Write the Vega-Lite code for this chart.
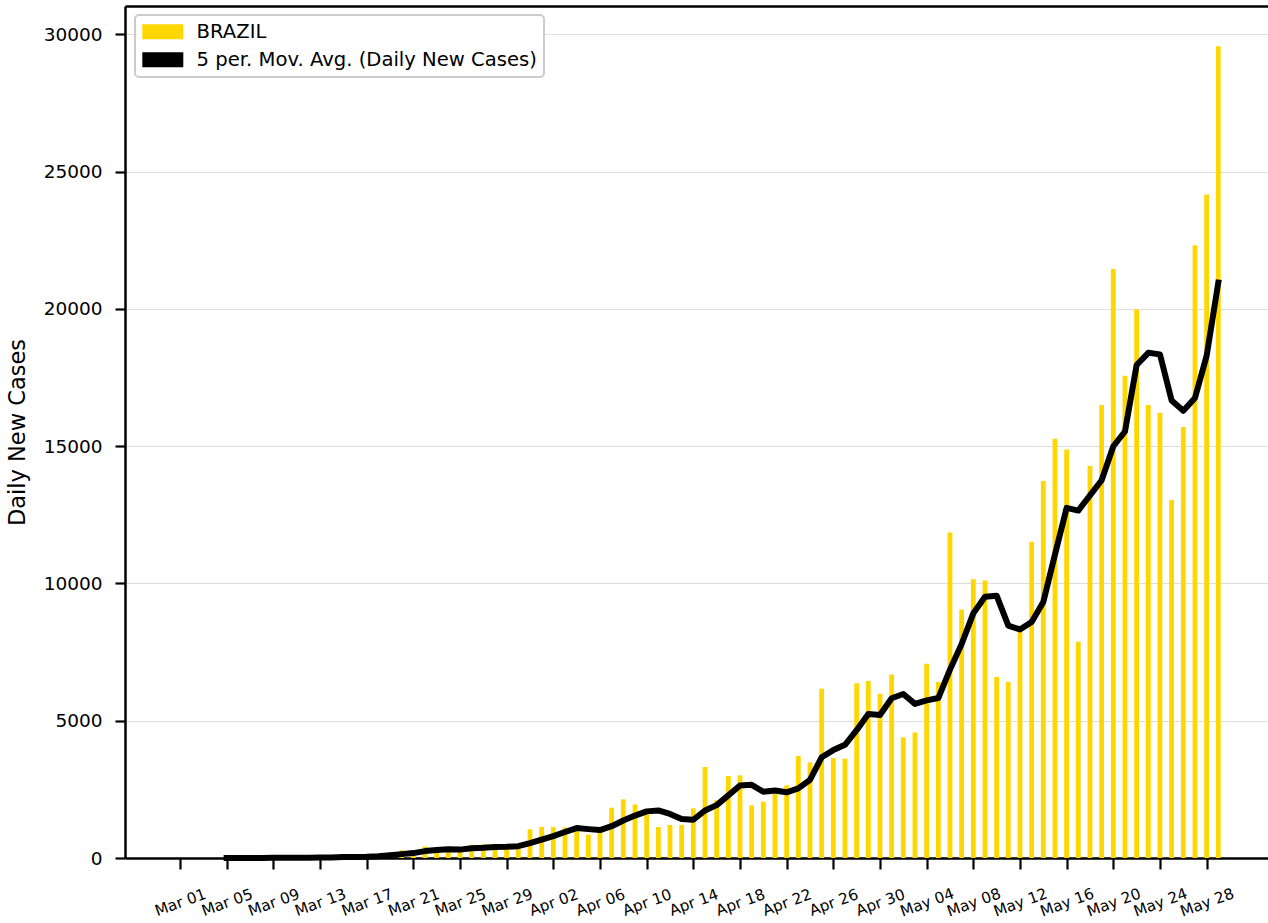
{
  "$schema": "https://vega.github.io/schema/vega-lite/v6.json",
  "width": 1143,
  "height": 852,
  "autosize": {"type": "none"},
  "padding": {"left": 125, "top": 6, "right": 0, "bottom": 65},
  "background": "white",
  "config": {
    "font": "DejaVu Sans",
    "view": {"stroke": null},
    "axis": {"labelFont": "DejaVu Sans", "titleFont": "DejaVu Sans", "labelColor": "black", "titleColor": "black", "domainColor": "black", "tickColor": "black"}
  },
  "data": {
    "values": [
      {"date": "2020/03/01", "cases": 0, "ma": null},
      {"date": "2020/03/02", "cases": 0, "ma": null},
      {"date": "2020/03/03", "cases": 0, "ma": null},
      {"date": "2020/03/04", "cases": 1, "ma": null},
      {"date": "2020/03/05", "cases": 4, "ma": 1},
      {"date": "2020/03/06", "cases": 5, "ma": 2},
      {"date": "2020/03/07", "cases": 6, "ma": 3.2},
      {"date": "2020/03/08", "cases": 6, "ma": 4.4},
      {"date": "2020/03/09", "cases": 5, "ma": 5.2},
      {"date": "2020/03/10", "cases": 6, "ma": 5.6},
      {"date": "2020/03/11", "cases": 18, "ma": 8.2},
      {"date": "2020/03/12", "cases": 25, "ma": 12},
      {"date": "2020/03/13", "cases": 21, "ma": 15},
      {"date": "2020/03/14", "cases": 23, "ma": 18.6},
      {"date": "2020/03/15", "cases": 79, "ma": 33.2},
      {"date": "2020/03/16", "cases": 34, "ma": 36.4},
      {"date": "2020/03/17", "cases": 57, "ma": 42.8},
      {"date": "2020/03/18", "cases": 137, "ma": 66},
      {"date": "2020/03/19", "cases": 193, "ma": 100},
      {"date": "2020/03/20", "cases": 283, "ma": 140.8},
      {"date": "2020/03/21", "cases": 224, "ma": 178.8},
      {"date": "2020/03/22", "cases": 418, "ma": 251},
      {"date": "2020/03/23", "cases": 345, "ma": 292.6},
      {"date": "2020/03/24", "cases": 310, "ma": 316},
      {"date": "2020/03/25", "cases": 232, "ma": 305.8},
      {"date": "2020/03/26", "cases": 482, "ma": 357.4},
      {"date": "2020/03/27", "cases": 502, "ma": 374.2},
      {"date": "2020/03/28", "cases": 487, "ma": 402.6},
      {"date": "2020/03/29", "cases": 352, "ma": 411},
      {"date": "2020/03/30", "cases": 323, "ma": 429.2},
      {"date": "2020/03/31", "cases": 1045, "ma": 541.8},
      {"date": "2020/04/01", "cases": 1130, "ma": 667.4},
      {"date": "2020/04/02", "cases": 1125, "ma": 795},
      {"date": "2020/04/03", "cases": 1110, "ma": 946.6},
      {"date": "2020/04/04", "cases": 1045, "ma": 1091},
      {"date": "2020/04/05", "cases": 850, "ma": 1052},
      {"date": "2020/04/06", "cases": 955, "ma": 1017},
      {"date": "2020/04/07", "cases": 1833, "ma": 1158.6},
      {"date": "2020/04/08", "cases": 2136, "ma": 1363.8},
      {"date": "2020/04/09", "cases": 1945, "ma": 1543.8},
      {"date": "2020/04/10", "cases": 1620, "ma": 1697.8},
      {"date": "2020/04/11", "cases": 1129, "ma": 1732.6},
      {"date": "2020/04/12", "cases": 1202, "ma": 1606.4},
      {"date": "2020/04/13", "cases": 1202, "ma": 1419.6},
      {"date": "2020/04/14", "cases": 1808, "ma": 1392.2},
      {"date": "2020/04/15", "cases": 3313, "ma": 1730.8},
      {"date": "2020/04/16", "cases": 2100, "ma": 1925},
      {"date": "2020/04/17", "cases": 2986, "ma": 2281.8},
      {"date": "2020/04/18", "cases": 3010, "ma": 2643.4},
      {"date": "2020/04/19", "cases": 1918, "ma": 2665.4},
      {"date": "2020/04/20", "cases": 2051, "ma": 2413},
      {"date": "2020/04/21", "cases": 2336, "ma": 2460.2},
      {"date": "2020/04/22", "cases": 2646, "ma": 2392.2},
      {"date": "2020/04/23", "cases": 3714, "ma": 2533},
      {"date": "2020/04/24", "cases": 3483, "ma": 2846},
      {"date": "2020/04/25", "cases": 6166, "ma": 3669},
      {"date": "2020/04/26", "cases": 3641, "ma": 3930},
      {"date": "2020/04/27", "cases": 3617, "ma": 4124.2},
      {"date": "2020/04/28", "cases": 6360, "ma": 4653.4},
      {"date": "2020/04/29", "cases": 6445, "ma": 5245.8},
      {"date": "2020/04/30", "cases": 5983, "ma": 5209.2},
      {"date": "2020/05/01", "cases": 6680, "ma": 5817},
      {"date": "2020/05/02", "cases": 4390, "ma": 5971.6},
      {"date": "2020/05/03", "cases": 4570, "ma": 5613.6},
      {"date": "2020/05/04", "cases": 7078, "ma": 5740.2},
      {"date": "2020/05/05", "cases": 6406, "ma": 5824.8},
      {"date": "2020/05/06", "cases": 11859, "ma": 6860.6},
      {"date": "2020/05/07", "cases": 9047, "ma": 7792},
      {"date": "2020/05/08", "cases": 10156, "ma": 8909.2},
      {"date": "2020/05/09", "cases": 10109, "ma": 9515.4},
      {"date": "2020/05/10", "cases": 6594, "ma": 9553},
      {"date": "2020/05/11", "cases": 6406, "ma": 8462.4},
      {"date": "2020/05/12", "cases": 8359, "ma": 8324.8},
      {"date": "2020/05/13", "cases": 11516, "ma": 8596.8},
      {"date": "2020/05/14", "cases": 13734, "ma": 9321.8},
      {"date": "2020/05/15", "cases": 15266, "ma": 11056.2},
      {"date": "2020/05/16", "cases": 14875, "ma": 12750},
      {"date": "2020/05/17", "cases": 7875, "ma": 12653.2},
      {"date": "2020/05/18", "cases": 14280, "ma": 13206},
      {"date": "2020/05/19", "cases": 16500, "ma": 13759.2},
      {"date": "2020/05/20", "cases": 21450, "ma": 14996},
      {"date": "2020/05/21", "cases": 17560, "ma": 15533},
      {"date": "2020/05/22", "cases": 19980, "ma": 17954},
      {"date": "2020/05/23", "cases": 16500, "ma": 18398},
      {"date": "2020/05/24", "cases": 16220, "ma": 18342},
      {"date": "2020/05/25", "cases": 13040, "ma": 16660},
      {"date": "2020/05/26", "cases": 15695, "ma": 16287},
      {"date": "2020/05/27", "cases": 22315, "ma": 16754},
      {"date": "2020/05/28", "cases": 24165, "ma": 18287},
      {"date": "2020/05/29", "cases": 29565, "ma": 20956}
    ]
  },
  "layer": [
    {
      "mark": {"type": "bar", "size": 4.8, "color": "#FFD700"},
      "encoding": {
        "x": {
          "field": "date",
          "type": "temporal",
          "scale": {"domain": [{"year": 2020, "month": 2, "date": 25, "hours": 6, "minutes": 51}, {"year": 2020, "month": 6, "date": 2, "hours": 6, "minutes": 15}], "padding": 0, "nice": false},
          "axis": {
            "orient": "bottom",
            "title": null,
            "format": "%b %d",
            "values": [
              {"year": 2020, "month": 3, "date": 1}, {"year": 2020, "month": 3, "date": 5}, {"year": 2020, "month": 3, "date": 9},
              {"year": 2020, "month": 3, "date": 13}, {"year": 2020, "month": 3, "date": 17}, {"year": 2020, "month": 3, "date": 21},
              {"year": 2020, "month": 3, "date": 25}, {"year": 2020, "month": 3, "date": 29}, {"year": 2020, "month": 4, "date": 2},
              {"year": 2020, "month": 4, "date": 6}, {"year": 2020, "month": 4, "date": 10}, {"year": 2020, "month": 4, "date": 14},
              {"year": 2020, "month": 4, "date": 18}, {"year": 2020, "month": 4, "date": 22}, {"year": 2020, "month": 4, "date": 26},
              {"year": 2020, "month": 4, "date": 30}, {"year": 2020, "month": 5, "date": 4}, {"year": 2020, "month": 5, "date": 8},
              {"year": 2020, "month": 5, "date": 12}, {"year": 2020, "month": 5, "date": 16}, {"year": 2020, "month": 5, "date": 20},
              {"year": 2020, "month": 5, "date": 24}, {"year": 2020, "month": 5, "date": 28}
            ],
            "grid": false,
            "labelAngle": -20,
            "labelAlign": "center",
            "labelBaseline": "middle",
            "labelPadding": 33,
            "labelFontSize": 15.3,
            "labelOverlap": false,
            "labelFlush": false,
            "tickSize": 11,
            "tickWidth": 2.2,
            "domainWidth": 2.5
          }
        },
        "y": {
          "field": "cases",
          "type": "quantitative",
          "scale": {"domain": [0, 31030], "nice": false},
          "axis": {
            "title": "Daily New Cases",
            "titleFontSize": 22.5,
            "titleFontWeight": "normal",
            "titlePadding": 14,
            "values": [0, 5000, 10000, 15000, 20000, 25000, 30000],
            "format": "d",
            "labelFontSize": 18.5,
            "labelPadding": 13,
            "tickSize": 10,
            "tickWidth": 2.2,
            "domainWidth": 2.5,
            "grid": true,
            "gridColor": "#dddddd",
            "gridWidth": 1
          }
        },
        "color": {
          "datum": "BRAZIL",
          "type": "nominal",
          "scale": {"domain": ["BRAZIL", "5 per. Mov. Avg. (Daily New Cases)"], "range": ["#FFD700", "#000000"]},
          "legend": {
            "title": null,
            "orient": "none",
            "legendX": 10,
            "legendY": 9,
            "padding": 7,
            "fillColor": "rgba(255,255,255,0.85)",
            "strokeColor": "#cccccc",
            "cornerRadius": 4,
            "labelFont": "DejaVu Sans",
            "labelFontSize": 19.6,
            "labelColor": "black",
            "labelLimit": 800,
            "symbolType": "M-2.733,-1H2.733V1H-2.733Z",
            "symbolSize": 225,
            "symbolOffset": 11,
            "labelOffset": 24,
            "rowPadding": 7,
            "symbolStrokeWidth": 0,
            "encode": {
              "legend": {"update": {"strokeWidth": {"value": 2}}},
              "symbols": {"update": {"fill": {"scale": "color", "field": "value"}, "stroke": {"value": "transparent"}, "strokeWidth": {"value": 0}, "opacity": {"value": 1}}}
            }
          }
        }
      }
    },
    {
      "mark": {"type": "line", "strokeWidth": 6, "strokeJoin": "round", "strokeCap": "square"},
      "encoding": {
        "x": {
          "field": "date",
          "type": "temporal",
          "axis": {"orient": "top", "labels": false, "ticks": false, "grid": false, "title": null, "domainWidth": 2.5, "domainColor": "black"}
        },
        "y": {"field": "ma", "type": "quantitative"},
        "color": {"datum": "5 per. Mov. Avg. (Daily New Cases)", "type": "nominal"}
      }
    }
  ],
  "resolve": {"axis": {"x": "independent"}}
}
